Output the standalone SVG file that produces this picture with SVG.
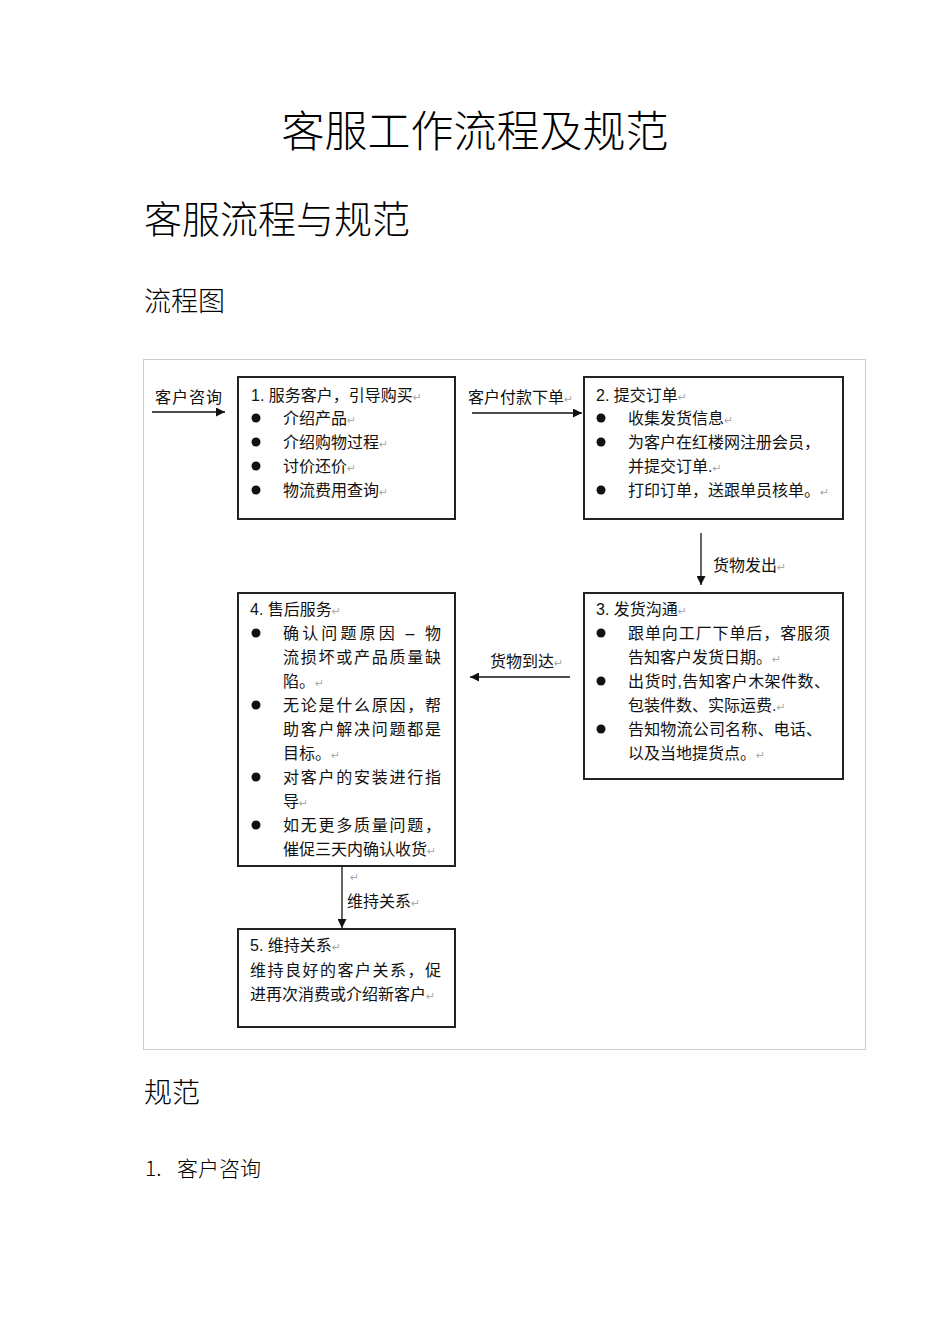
<svg xmlns="http://www.w3.org/2000/svg" width="950" height="1344" viewBox="0 0 950 1344">
<defs>
<style>
text{font-family:"Liberation Sans","Noto Sans CJK SC",sans-serif;fill:#111;}
.h{font-family:"Noto Sans CJK SC",sans-serif;font-weight:300;fill:#000;}
.t{font-size:16px;}
.r{font-size:11px;fill:#aaa;font-family:"DejaVu Sans",sans-serif;}
.box{fill:#fff;stroke:#222;stroke-width:2;}
.frame{fill:none;stroke:#ccc;stroke-width:1;}
.ln{stroke:#111;stroke-width:1.3;fill:none;}
.b{fill:#111;}
</style>
<marker id="ah" viewBox="0 0 10 10" refX="10" refY="5" markerWidth="9" markerHeight="9" markerUnits="userSpaceOnUse" orient="auto">
<path d="M0,0 L10,5 L0,10 z" fill="#111"/>
</marker>
</defs>
<rect width="950" height="1344" fill="#fff"/>

<text class="h" x="475" y="147" font-size="43" text-anchor="middle">客服工作流程及规范</text>
<text class="h" x="144" y="233" font-size="38">客服流程与规范</text>
<text class="h" x="144" y="311" font-size="27">流程图</text>

<rect class="frame" x="143.5" y="359.5" width="722" height="690"/>

<g id="connectors">
<line class="ln" x1="152" y1="412" x2="225" y2="412" marker-end="url(#ah)"/>
<text class="t" x="155" y="403" textLength="67">客户咨询</text>
<line class="ln" x1="472" y1="413" x2="582" y2="413" marker-end="url(#ah)"/>
<text class="t" x="468" y="403">客户付款下单<tspan class="r">↵</tspan></text>
<line class="ln" x1="701" y1="533" x2="701" y2="585" marker-end="url(#ah)"/>
<text class="t" x="713" y="571">货物发出<tspan class="r">↵</tspan></text>
<line class="ln" x1="570" y1="677" x2="470" y2="677" marker-end="url(#ah)"/>
<text class="t" x="490" y="667">货物到达<tspan class="r">↵</tspan></text>
<line class="ln" x1="342" y1="866" x2="342" y2="928" marker-end="url(#ah)"/>
<text class="r" x="350" y="881">↵</text>
<text class="t" x="347" y="907">维持关系<tspan class="r">↵</tspan></text>
</g>

<g id="node1">
<rect class="box" x="238" y="377" width="217" height="142"/>
<text class="t" x="251" y="401">1. 服务客户，引导购买<tspan class="r">↵</tspan></text>
<circle class="b" cx="256" cy="418" r="4.5"/>
<text class="t" x="283" y="424">介绍产品<tspan class="r">↵</tspan></text>
<circle class="b" cx="256" cy="442" r="4.5"/>
<text class="t" x="283" y="448">介绍购物过程<tspan class="r">↵</tspan></text>
<circle class="b" cx="256" cy="466" r="4.5"/>
<text class="t" x="283" y="472">讨价还价<tspan class="r">↵</tspan></text>
<circle class="b" cx="256" cy="490" r="4.5"/>
<text class="t" x="283" y="496">物流费用查询<tspan class="r">↵</tspan></text>
</g>

<g id="node2">
<rect class="box" x="584" y="377" width="259" height="142"/>
<text class="t" x="596" y="401">2. 提交订单<tspan class="r">↵</tspan></text>
<circle class="b" cx="601" cy="418" r="4.5"/>
<text class="t" x="628" y="424">收集发货信息<tspan class="r">↵</tspan></text>
<circle class="b" cx="601" cy="442" r="4.5"/>
<text class="t" x="628" y="448">为客户在红楼网注册会员，</text>
<text class="t" x="628" y="472">并提交订单.<tspan class="r">↵</tspan></text>
<circle class="b" cx="601" cy="490" r="4.5"/>
<text class="t" x="628" y="496">打印订单，送跟单员核单。<tspan class="r">↵</tspan></text>
</g>

<g id="node3">
<rect class="box" x="584" y="593" width="259" height="186"/>
<text class="t" x="596" y="615">3. 发货沟通<tspan class="r">↵</tspan></text>
<circle class="b" cx="601" cy="633" r="4.5"/>
<text class="t" x="628" y="639" textLength="202">跟单向工厂下单后，客服须</text>
<text class="t" x="628" y="663">告知客户发货日期。<tspan class="r">↵</tspan></text>
<circle class="b" cx="601" cy="681" r="4.5"/>
<text class="t" x="628" y="687" textLength="202">出货时,告知客户木架件数、</text>
<text class="t" x="628" y="711">包装件数、实际运费.<tspan class="r">↵</tspan></text>
<circle class="b" cx="601" cy="729" r="4.5"/>
<text class="t" x="628" y="735" textLength="194">告知物流公司名称、电话、</text>
<text class="t" x="628" y="759">以及当地提货点。<tspan class="r">↵</tspan></text>
</g>

<g id="node4">
<rect class="box" x="238" y="593" width="217" height="273"/>
<text class="t" x="250" y="615">4. 售后服务<tspan class="r">↵</tspan></text>
<circle class="b" cx="256" cy="633" r="4.5"/>
<text class="t" x="283" y="639" textLength="158">确认问题原因 – 物</text>
<text class="t" x="283" y="663" textLength="158">流损坏或产品质量缺</text>
<text class="t" x="283" y="687">陷。<tspan class="r">↵</tspan></text>
<circle class="b" cx="256" cy="705" r="4.5"/>
<text class="t" x="283" y="711" textLength="158">无论是什么原因，帮</text>
<text class="t" x="283" y="735" textLength="158">助客户解决问题都是</text>
<text class="t" x="283" y="759">目标。<tspan class="r">↵</tspan></text>
<circle class="b" cx="256" cy="777" r="4.5"/>
<text class="t" x="283" y="783" textLength="158">对客户的安装进行指</text>
<text class="t" x="283" y="807">导<tspan class="r">↵</tspan></text>
<circle class="b" cx="256" cy="825" r="4.5"/>
<text class="t" x="283" y="831" textLength="158">如无更多质量问题，</text>
<text class="t" x="283" y="855">催促三天内确认收货<tspan class="r">↵</tspan></text>
</g>

<g id="node5">
<rect class="box" x="238" y="929" width="217" height="98"/>
<text class="t" x="250" y="951">5. 维持关系<tspan class="r">↵</tspan></text>
<text class="t" x="250" y="976" textLength="191">维持良好的客户关系，促</text>
<text class="t" x="250" y="1000">进再次消费或介绍新客户<tspan class="r">↵</tspan></text>
</g>

<text class="h" x="144" y="1103" font-size="28">规范</text>
<text class="h" x="145" y="1176" font-size="21">1.</text>
<text class="h" x="177" y="1176" font-size="21">客户咨询</text>
</svg>
